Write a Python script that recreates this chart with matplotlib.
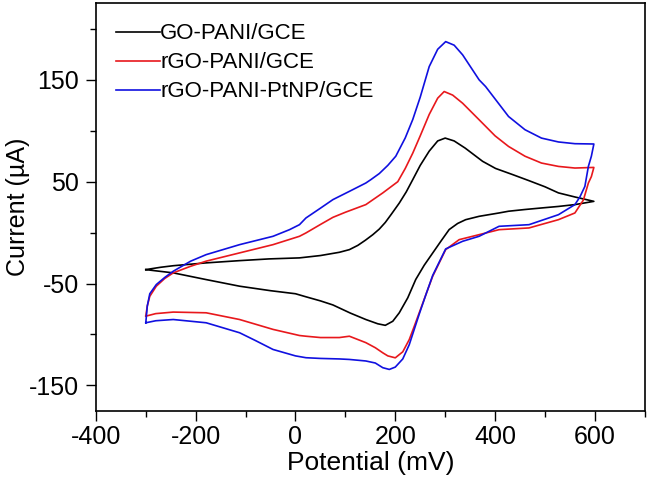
import matplotlib
matplotlib.use("Agg")
import matplotlib.pyplot as plt

plt.rcParams['font.family'] = ['Liberation Sans', 'DejaVu Sans']
plt.rcParams['axes.unicode_minus'] = False

# GO-PANI/GCE: forward scan (-300 -> 600) then reverse scan (600 -> -300)
go_fwd_e = [-300, -270, -245, -210, -179, -112, -53, 8, 50, 88, 108, 125, 140, 155, 168, 180, 192, 208, 222, 235,
            250, 268, 285, 300, 318, 340, 375, 401, 435, 468, 500, 527, 560, 598]
go_fwd_i = [-36.3, -34, -32.5, -31, -29.7, -27.5, -25.8, -24.8, -22.5, -19.3, -16.7, -12.5, -7.5, -2, 3.5, 10, 18, 29, 40, 52,
            66, 80, 90, 92.8, 90, 83, 70, 63, 57, 51, 45, 39, 35, 30.7]
go_rev_e = [598, 560, 527, 493, 460, 427, 408, 368, 341, 325, 308, 292, 275, 258, 241, 225, 208, 195, 180,
            165, 141, 110, 75, 50, 21, 0, -50, -112, -180, -245, -280, -300]
go_rev_i = [30.7, 27.5, 25.7, 24.2, 22.7, 21, 19.3, 16, 12.7, 9, 3, -8, -20, -32, -46, -64, -78.7, -87, -91,
            -89.5, -85.3, -79, -71, -67, -63, -60, -57, -52.6, -46, -39.5, -37.5, -36.3]

# rGO-PANI/GCE
rgo_fwd_e = [-300, -297, -292, -279, -262, -245, -210, -179, -112, -45, 8, 21, 50, 75, 100, 141, 175, 205,
             220, 235, 250, 268, 285, 298, 315, 335, 368, 400, 427, 460, 493, 527, 560, 598]
rgo_fwd_i = [-82, -72, -62.5, -52.6, -45, -39.5, -33, -28, -19.9, -11.8, -3.6, -0.3, 8, 15, 20, 27.5, 39, 50,
             63, 78, 95, 116, 132, 138.5, 135, 127, 110.8, 95, 84.6, 75, 68.3, 65, 63.4, 64]
rgo_rev_e = [598, 593, 587, 577, 560, 527, 468, 408, 368, 328, 301, 275, 262, 248, 238, 228, 215, 200, 185,
             175, 160, 141, 108, 88, 50, 21, 8, -45, -112, -179, -245, -280, -300]
rgo_rev_i = [64, 55, 48.7, 32, 19.3, 12.7, 4.6, 2.9, -2, -6.9, -16.7, -42.8, -60, -78.7, -92, -105, -117, -122.9, -121,
             -118, -113, -108, -101.7, -103, -103, -101.7, -101, -95, -85.3, -78.7, -78, -79.5, -82]

# rGO-PANI-PtNP/GCE
pt_fwd_e = [-300, -297, -292, -279, -262, -245, -210, -179, -112, -45, -12, 8, 21, 50, 75, 108, 141, 151, 168,
            185, 201, 220, 235, 250, 268, 285, 301, 318, 335, 368, 381, 427, 460, 493, 527, 560, 598]
pt_fwd_i = [-88.5, -72, -60, -51, -44, -37.9, -28, -21.6, -11.8, -3.6, 2.9, 7.8, 14.4, 24, 32.4, 40.5, 48.7, 52, 58,
            66, 75, 93, 111, 133, 163, 180, 187.5, 184, 174.5, 150, 143.4, 114, 101, 92.8, 89, 87.3, 87]
pt_rev_e = [598, 593, 587, 580, 570, 560, 527, 468, 408, 368, 335, 301, 275, 262, 248, 238, 228, 215, 200, 188,
            175, 160, 141, 108, 88, 50, 21, 0, -45, -80, -112, -179, -245, -280, -300]
pt_rev_i = [87, 75, 65, 45.4, 35, 27.5, 17.6, 7.8, 6.2, -3.6, -8.5, -16, -42, -60, -80, -95, -110, -124, -132, -134.3,
            -132.6, -128, -126, -124.5, -124, -123.5, -122.8, -121, -114.7, -106, -98.3, -88.5, -85.3, -86.5, -88.5]

fig, ax = plt.subplots(figsize=(6.48, 4.88), dpi=100)
plt.subplots_adjust(left=0.148, right=0.995, bottom=0.158, top=0.993)

ax.plot(go_fwd_e + go_rev_e, go_fwd_i + go_rev_i, color='black', lw=1.2, label='GO-PANI/GCE')
ax.plot(rgo_fwd_e + rgo_rev_e, rgo_fwd_i + rgo_rev_i, color='#e8181c', lw=1.2, label='rGO-PANI/GCE')
ax.plot(pt_fwd_e + pt_rev_e, pt_fwd_i + pt_rev_i, color='#1010e0', lw=1.2, label='rGO-PANI-PtNP/GCE')

ax.set_xlim(-400, 700)
ax.set_ylim(-175, 225)
ax.set_xticks([-400, -200, 0, 200, 400, 600])
ax.set_xticks([-300, -100, 100, 300, 500, 700], minor=True)
ax.set_yticks([-150, -50, 50, 150])
ax.set_yticks([-100, 0, 100, 200], minor=True)
ax.tick_params(which='both', direction='out', top=False, right=False, labelsize=18, width=1.0)
ax.tick_params(axis='x', which='major', length=7, pad=3.5)
ax.tick_params(axis='y', which='major', length=7, pad=5)
ax.tick_params(which='minor', length=4)
for sp in ax.spines.values():
    sp.set_linewidth(1.2)

ax.set_xlabel('Potential (mV)', fontsize=19, labelpad=1)
ax.set_ylabel('Current (\u00b5A)', fontsize=18)
ax.yaxis.set_label_coords(-0.12, 0.5)

ax.legend(loc='upper left', frameon=False, fontsize=16, handlelength=2.0, handletextpad=0.0,
          labelspacing=0.36, borderaxespad=0.6, borderpad=0.3)

plt.savefig('out.png')
